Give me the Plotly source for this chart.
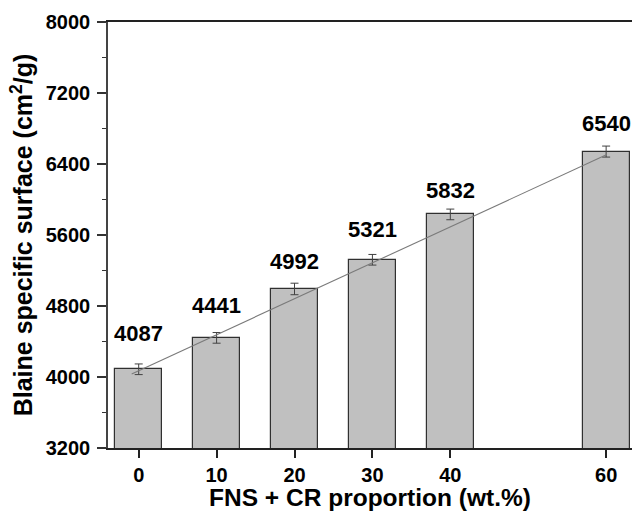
import plotly.graph_objects as go

# Data
proportion = [0, 10, 20, 30, 40, 60]            # FNS + CR proportion (wt.%)
blaine = [4087, 4441, 4992, 5321, 5832, 6540]   # Blaine specific surface (cm2/g)
blaine_err = [60, 60, 65, 60, 60, 62]            # error bar half-heights
trend_x = [-0.9, 60.1]                           # trend line end points (as drawn)
trend_y = [4035, 6506]
x_tick_vals = [0, 10, 20, 30, 40, 60]
y_tick_vals = [3200, 4000, 4800, 5600, 6400, 7200, 8000]

# styling (pixel offsets of the value labels above the bar tops)
label_shift = [36, 32, 27, 30, 24, 28]

FONT = "Liberation Sans, Arial, sans-serif"

fig = go.Figure()
fig.add_trace(go.Bar(
    x=proportion, y=blaine, width=6,
    marker=dict(color="#c0c0c0", line=dict(color="#303030", width=1.2)),
    error_y=dict(type="data", array=blaine_err, visible=True,
                 color="#404040", thickness=1, width=4),
    showlegend=False,
))
fig.add_trace(go.Scatter(
    x=trend_x, y=trend_y, mode="lines",
    line=dict(color="#7a7a7a", width=1.1), showlegend=False,
))

for xv, yv, sh in zip(proportion, blaine, label_shift):
    fig.add_annotation(x=xv, y=yv, text=str(yv), showarrow=False,
                       yanchor="middle", yshift=sh,
                       font=dict(family=FONT, size=22, color="black", weight="bold"))

fig.update_layout(
    width=632, height=511,
    margin=dict(l=108, r=0, t=22, b=63),
    plot_bgcolor="white", paper_bgcolor="white",
    bargap=0,
    font=dict(family=FONT, color="black"),
)
fig.update_xaxes(
    range=[-3.94, 63.32], tickvals=x_tick_vals,
    ticks="outside", ticklen=8, tickwidth=1.5, tickcolor="#222",
    showline=True, linecolor="#222", linewidth=2, mirror=True,
    showgrid=False, zeroline=False,
    tickfont=dict(family=FONT, size=20, color="black", weight="bold"),
    title=dict(text="FNS + CR proportion (wt.%)", standoff=0,
               font=dict(family=FONT, size=24.5, color="black", weight="bold")),
)
fig.update_yaxes(
    range=[3200, 8000], tickvals=y_tick_vals,
    ticks="outside", ticklen=9, tickwidth=1.5, tickcolor="#333",
    ticklabelstandoff=3,
    minor=dict(ticks="outside", ticklen=4, tickwidth=1.2, tickcolor="#333",
               tick0=3600, dtick=800),
    showline=True, linecolor="#444", linewidth=1.5, mirror=False,
    showgrid=False, zeroline=False,
    tickfont=dict(family=FONT, size=20, color="black", weight="bold"),
    title=dict(text="Blaine specific surface (cm<sup>2</sup>/g)", standoff=6,
               font=dict(family=FONT, size=25, color="black", weight="bold")),
)

fig.write_html("out.html", config={"displayModeBar": False},
               post_script="document.body.style.margin='0';"
                           "document.body.style.overflow='hidden';")
